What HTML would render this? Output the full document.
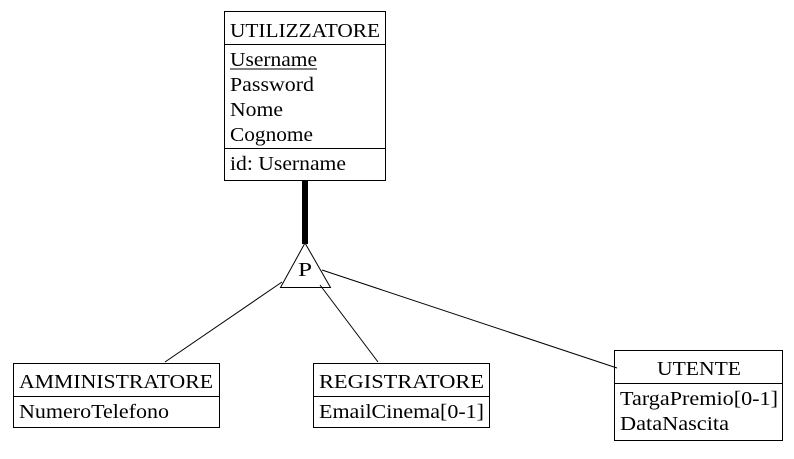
<!DOCTYPE html>
<html><head><meta charset="utf-8"><style>
body{margin:0;background:#fff;}
svg text{font-family:"Liberation Serif","Times New Roman","DejaVu Serif",serif;font-size:20px;fill:#000;}
</style></head><body>
<svg width="794" height="454" xmlns="http://www.w3.org/2000/svg">
<rect x="0" y="0" width="794" height="454" fill="#fff"/>
<g stroke="#000" stroke-width="1" fill="none">
<rect x="224.5" y="11.5" width="161" height="169"/>
<line x1="224" y1="44.5" x2="386" y2="44.5"/>
<line x1="224" y1="148.5" x2="386" y2="148.5"/>
<rect x="13.5" y="363.5" width="206" height="64"/>
<line x1="13" y1="396.5" x2="220" y2="396.5"/>
<rect x="313.5" y="363.5" width="176" height="64"/>
<line x1="313" y1="396.5" x2="490" y2="396.5"/>
<rect x="614.5" y="350.5" width="168" height="90"/>
<line x1="614" y1="383.5" x2="783" y2="383.5"/>
<line x1="282" y1="282" x2="165" y2="362"/>
<line x1="320" y1="285" x2="378" y2="362"/>
<line x1="322" y1="270" x2="617" y2="368"/>
<polygon points="305,243 280.5,287.5 330.5,287.5"/>
</g>
<rect x="302" y="180" width="6" height="64" fill="#000"/>
<text x="230" y="37" textLength="150" lengthAdjust="spacingAndGlyphs">UTILIZZATORE</text>
<text x="230" y="66" textLength="87" lengthAdjust="spacingAndGlyphs">Username</text>
<line x1="230" y1="69" x2="317" y2="69" stroke="#000"/>
<text x="230" y="91" textLength="84" lengthAdjust="spacingAndGlyphs">Password</text>
<text x="230" y="116" textLength="53" lengthAdjust="spacingAndGlyphs">Nome</text>
<text x="230" y="141" textLength="83" lengthAdjust="spacingAndGlyphs">Cognome</text>
<text x="230" y="170" textLength="116" lengthAdjust="spacingAndGlyphs">id: Username</text>
<text x="298" y="276" textLength="14" lengthAdjust="spacingAndGlyphs">P</text>
<text x="19" y="388" textLength="194" lengthAdjust="spacingAndGlyphs">AMMINISTRATORE</text>
<text x="19" y="418" textLength="150" lengthAdjust="spacingAndGlyphs">NumeroTelefono</text>
<text x="319" y="388" textLength="165" lengthAdjust="spacingAndGlyphs">REGISTRATORE</text>
<text x="319" y="418" textLength="165" lengthAdjust="spacingAndGlyphs">EmailCinema[0-1]</text>
<text x="657" y="375" textLength="84" lengthAdjust="spacingAndGlyphs">UTENTE</text>
<text x="620" y="405" textLength="158" lengthAdjust="spacingAndGlyphs">TargaPremio[0-1]</text>
<text x="620" y="430" textLength="109" lengthAdjust="spacingAndGlyphs">DataNascita</text>
</svg>
</body></html>
